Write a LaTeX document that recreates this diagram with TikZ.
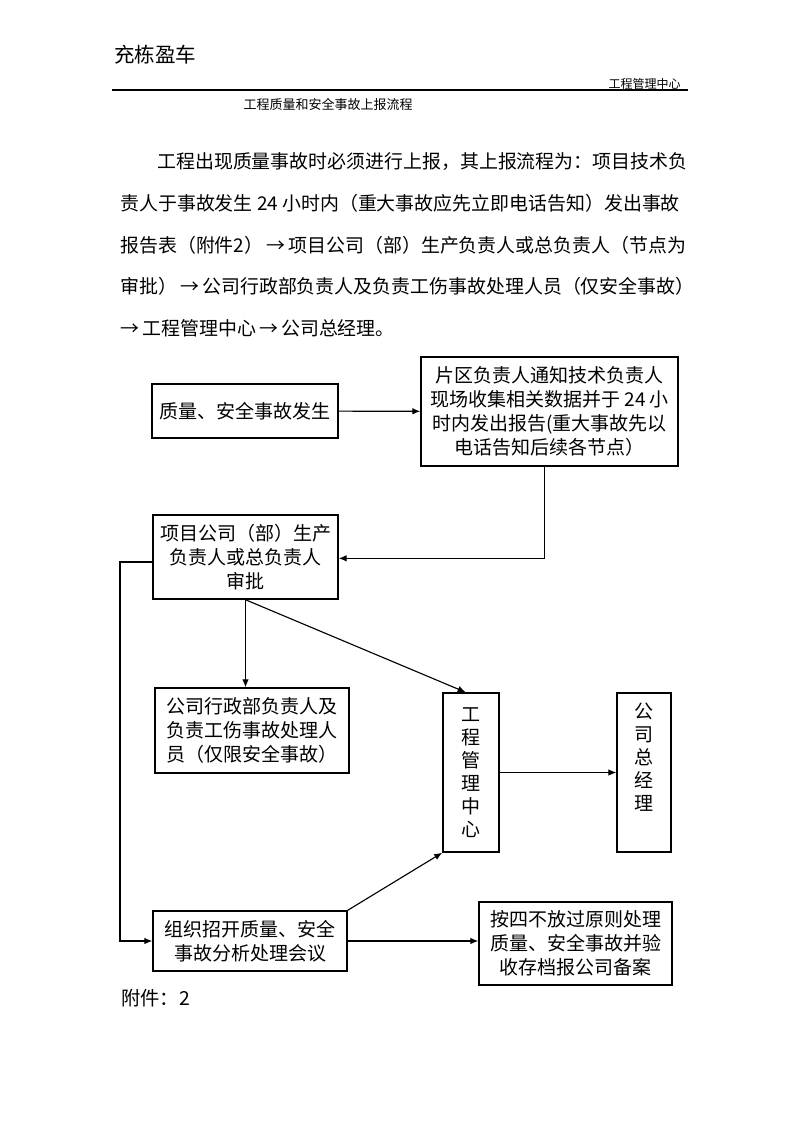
\documentclass[tikz,border=0pt]{standalone}
\usepackage{fontspec}
\setmainfont{Noto Sans CJK SC}
\usetikzlibrary{arrows.meta,calc,positioning}
\newdimen\px \px=0.75pt

\begin{document}
\begin{tikzpicture}[
  x=0.75pt,y=-0.75pt,
  >={Latex[length=6pt,width=5pt]},
  box/.style={draw,line width=1.1pt,inner sep=0pt,align=center,
    font=\fontsize{14.25}{18}\selectfont},
  vbox/.style={box,font=\fontsize{14.25}{17.25}\selectfont},
  arr/.style={->,line width=0.85pt},
  para/.style={anchor=west,inner sep=0pt,font=\fontsize{14.2}{17}\selectfont}
]
\useasboundingbox (0,0) rectangle (800,1132);

% page head
\node[anchor=west,inner sep=0pt,font=\fontsize{15.4}{18}\selectfont] (brand) at (114,55) {充栋盈车};
\node[anchor=east,inner sep=0pt,font=\fontsize{9}{11}\selectfont] (dept) at (681,84) {工程管理中心};
\draw[line width=1.1pt] (112,90) -- (688,90);
\node[inner sep=0pt,font=\fontsize{9.75}{12}\selectfont] (title) at (328,105) {工程质量和安全事故上报流程};

% text
\node[para] (p1) at (157,162) {工程出现质量事故时必须进行上报，其上报流程为：项目技术负};
\node[para] (p2) at (120,203) {责人于事故发生 24 小时内（重大事故应先立即电话告知）发出事故};
\node[para] (p3) at (120,245) {报告表（附件2）\,→\,项目公司（部）生产负责人或总负责人（节点为};
\node[para] (p4) at (120,286) {审批）\,→\,公司行政部负责人及负责工伤事故处理人员（仅安全事故）};
\node[para] (p5) at (120,328) {→\,工程管理中心\,→\,公司总经理。};

% chart
\node[box,minimum width=186\px,minimum height=54\px] (occur) at (245,411) {质量、安全事故发生};
\node[box,minimum width=257\px,minimum height=109\px] (notify) at (549.5,411.5)
  {片区负责人通知技术负责人\\现场收集相关数据并于 24 小\\时内发出报告(重大事故先以\\电话告知后续各节点）};
\node[box,minimum width=185\px,minimum height=84\px] (approve) at (245.5,557)
  {项目公司（部）生产\\负责人或总负责人\\审批};
\node[box,minimum width=194\px,minimum height=85\px] (admin) at (252,730.5)
  {公司行政部负责人及\\负责工伤事故处理人\\员（仅限安全事故）};
\node[vbox,minimum width=56\px,minimum height=159\px] (eng) at (471,772.5)
  {工\\程\\管\\理\\中\\心};
\node[vbox,minimum width=54\px,minimum height=159\px] (gm) at (644,772.5)
  {公\\司\\总\\经\\理\\[6pt]};
\node[box,minimum width=194\px,minimum height=60\px] (meet) at (250,941)
  {组织招开质量、安全\\事故分析处理会议};
\node[box,minimum width=193\px,minimum height=83\px] (archive) at (575.5,943.5)
  {按四不放过原则处理\\质量、安全事故并验\\收存档报公司备案};

\coordinate (lft) at (120,562);

\draw[arr] (occur) -- (notify);
\draw[arr] ([xshift=-4pt]notify.south) |- ([yshift=-1pt]approve.east);
\draw[arr] (approve.south) -- (approve.south |- admin.north);
\draw[arr] (approve.south) -- ([xshift=-4pt]eng.north);
\draw[arr] (eng) -- (gm);
\draw[arr] (approve.west |- lft) -- (lft) |- (meet.west);
\draw[arr] (meet.north east) -- (eng.south west);
\draw[arr] (meet.east) -- (meet.east -| archive.west);

\node[anchor=west,inner sep=0pt,font=\fontsize{14.5}{17}\selectfont] (annex) at (121,998) {附件：2};

\end{tikzpicture}
\end{document}
